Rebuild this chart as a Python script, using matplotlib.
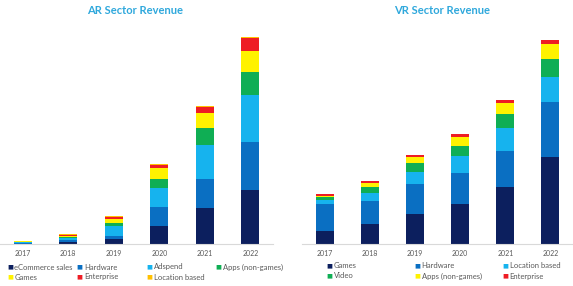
import numpy as np
import matplotlib.pyplot as plt

plt.rcParams['font.family'] = ['Lato', 'DejaVu Sans']

years = ['2017', '2018', '2019', '2020', '2021', '2022']

# AR sector revenue (relative units)
ar_names = ['eCommerce sales', 'Hardware', 'Adspend', 'Apps (non-games)',
            'Games', 'Enterprise', 'Location based']
ar_ecommerce = [0.5, 2, 5, 18, 36, 54]
ar_hardware = [0.5, 2, 3, 19, 29, 48]
ar_adspend = [0.8, 2, 10, 19, 34, 47]
ar_apps = [0.6, 1.3, 3, 9, 17, 23]
ar_games = [0.3, 1, 4, 11, 15, 21]
ar_enterprise = [0.2, 1, 2.5, 3, 6, 13]
ar_location = [0.2, 0.5, 0.8, 1, 1, 1]

# VR sector revenue
vr_names = ['Games', 'Hardware', 'Location based', 'Video',
            'Apps (non-games)', 'Enterprise']
vr_games = [13, 20, 30, 40, 57, 87]
vr_hardware = [27, 23, 30, 31, 36, 55]
vr_location = [4, 8, 12, 17, 23, 25]
vr_video = [2.7, 6, 9, 10, 14, 18]
vr_apps = [1.7, 4, 6, 9, 11, 15]
vr_enterprise = [1.3, 2, 2.5, 3, 3, 4]

navy = '#0c1f5e'
blue = '#0a6fc2'
cyan = '#16b3ee'
green = '#0fae54'
yellow = '#fff200'
red = '#ee1c24'
gold = '#ffc000'
title_col = '#2fa8dc'
text_col = '#595959'

ar_series = [ar_ecommerce, ar_hardware, ar_adspend, ar_apps, ar_games, ar_enterprise, ar_location]
ar_colors = [navy, blue, cyan, green, yellow, red, gold]
vr_series = [vr_games, vr_hardware, vr_location, vr_video, vr_apps, vr_enterprise]
vr_colors = [navy, blue, cyan, green, yellow, red]

fig = plt.figure(figsize=(5.73, 2.86), dpi=100)
W, H = 573, 286
ax1 = fig.add_axes([0, 42 / H, 273 / W, 214 / H])
ax2 = fig.add_axes([302 / W, 42 / H, 271 / W, 214 / H])


def stacked(ax, series, colors):
    x = np.arange(len(years))
    bottom = np.zeros(len(years))
    for vals, c in zip(series, colors):
        ax.bar(x, vals, 0.4, bottom=bottom, color=c, linewidth=0)
        bottom += np.array(vals)
    ax.set_xlim(-0.5, 5.5)
    ax.set_ylim(0, 214)
    ax.set_xticks(x)
    ax.set_xticklabels(years, fontsize=5, color=text_col)
    ax.tick_params(axis='x', length=0, pad=4)
    ax.set_yticks([])
    for s in ['top', 'right', 'left']:
        ax.spines[s].set_visible(False)
    ax.spines['bottom'].set_color('#d9d9d9')
    ax.spines['bottom'].set_linewidth(0.8)


stacked(ax1, ar_series, ar_colors)
stacked(ax2, vr_series, vr_colors)

fig.text(135 / W, 1 - 10 / H, 'AR Sector Revenue', color=title_col, fontsize=8,
         fontweight='bold', ha='center', va='center')
fig.text(442 / W, 1 - 10 / H, 'VR Sector Revenue', color=title_col, fontsize=8,
         fontweight='bold', ha='center', va='center')

# legends, laid out row by row like the original
for i, (name, c) in enumerate(zip(ar_names, ar_colors)):
    row, col = divmod(i, 4)
    x = (10 + col * 69.5) / W
    y = 1 - (267 + row * 10) / H
    fig.text(x, y, '■', color=c, fontsize=4.5, ha='center', va='center',
             family='DejaVu Sans')
    fig.text(x + 4.5 / W, y, name, color=text_col, fontsize=5.5, va='center')

for i, (name, c) in enumerate(zip(vr_names, vr_colors)):
    row, col = divmod(i, 3)
    x = (329 + col * 88) / W
    y = 1 - (266 + row * 10) / H
    fig.text(x, y, '■', color=c, fontsize=4.5, ha='center', va='center',
             family='DejaVu Sans')
    fig.text(x + 4.5 / W, y, name, color=text_col, fontsize=5.5, va='center')

fig.savefig('out.png', dpi=100)
